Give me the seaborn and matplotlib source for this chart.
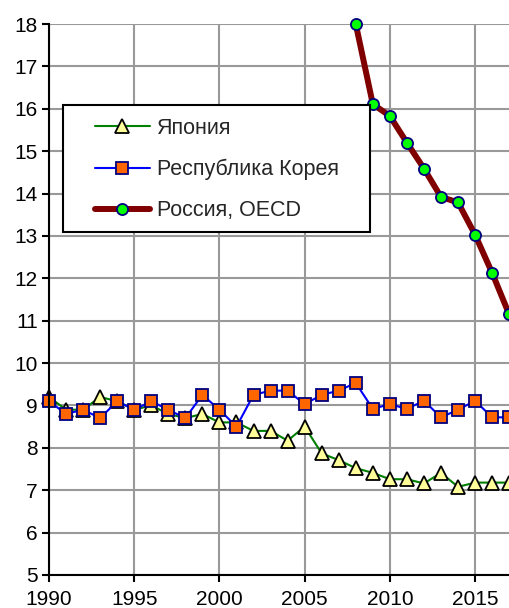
import matplotlib
matplotlib.use("Agg")
import matplotlib.pyplot as plt
import seaborn as sns
import pandas as pd
from matplotlib.patches import Rectangle

years = list(range(1990, 2018))
japan = [9.2, 8.9, 8.9, 9.2, 9.1, 8.9, 9.0, 8.8, 8.7, 8.8, 8.6, 8.6, 8.4, 8.4, 8.17, 8.5,
         7.87, 7.71, 7.52, 7.41, 7.26, 7.26, 7.16, 7.41, 7.08, 7.18, 7.18, 7.18]
korea = [9.1, 8.8, 8.9, 8.7, 9.1, 8.9, 9.1, 8.9, 8.7, 9.25, 8.9, 8.5, 9.25, 9.35, 9.35, 9.03,
         9.25, 9.35, 9.53, 8.92, 9.03, 8.92, 9.11, 8.72, 8.9, 9.11, 8.72, 8.72]
russia_years = list(range(2008, 2018))
russia = [18.0, 16.11, 15.83, 15.2, 14.59, 13.92, 13.79, 13.03, 12.13, 11.15]
labels = ["Япония", "Республика Корея", "Россия, OECD"]
xticks = [1990, 1995, 2000, 2005, 2010, 2015]
yticks = list(range(5, 19))

sns.set_theme(style="white")
plt.rcParams['font.family'] = ['Liberation Sans', 'DejaVu Sans']

fig = plt.figure(figsize=(5.10, 6.08), dpi=100)
ax = fig.add_axes([49/510, 33/608, 461/510, 551/608])

df_j = pd.DataFrame({"year": years, "v": japan})
df_k = pd.DataFrame({"year": years, "v": korea})
df_r = pd.DataFrame({"year": russia_years, "v": russia})

sns.lineplot(data=df_j, x="year", y="v", ax=ax, color="#008000", lw=1.5,
             marker="^", markersize=9.5, markerfacecolor="#FFFF99",
             markeredgecolor="black", markeredgewidth=1.3, label=labels[0])
sns.lineplot(data=df_k, x="year", y="v", ax=ax, color="#0000FF", lw=1.5,
             marker="s", markersize=8, markerfacecolor="#FF6600",
             markeredgecolor="#000080", markeredgewidth=1.3, label=labels[1])
sns.lineplot(data=df_r, x="year", y="v", ax=ax, color="#800000", lw=4.3,
             marker="o", markersize=8, markerfacecolor="#00FF00",
             markeredgecolor="#000080", markeredgewidth=1.3, label=labels[2])

for ln in ax.lines:
    ln.set_clip_on(False)

ax.set_xlim(1990, 2017.05)
ax.set_ylim(5, 18)
ax.set_xticks(xticks)
ax.set_yticks(yticks)
ax.set_xlabel("")
ax.set_ylabel("")
ax.grid(True, color="#999999", lw=1.5)
ax.set_axisbelow(True)
for s in ["top", "right"]:
    ax.spines[s].set_visible(False)
for s in ["left", "bottom"]:
    ax.spines[s].set_color("black")
    ax.spines[s].set_linewidth(1.5)
ax.tick_params(axis="both", direction="out", length=5, width=1.5, color="black",
               labelsize=15, labelcolor="black", left=True, bottom=True)
ax.tick_params(axis="x", pad=6)
ax.tick_params(axis="y", pad=3)

ax.add_patch(Rectangle((14/461, (575-232)/551), (370-63)/461, (232-105)/551,
                       transform=ax.transAxes, facecolor="white", edgecolor="black",
                       lw=1.5, zorder=5))
leg = ax.legend(loc="upper left", bbox_to_anchor=((95-49)/461, (575-118)/551),
                frameon=False, borderpad=0, borderaxespad=0, handlelength=2.55,
                handletextpad=0.32, labelspacing=0.93, fontsize=15.5)
leg.set_zorder(6)

fig.savefig("out.png", dpi=100)
